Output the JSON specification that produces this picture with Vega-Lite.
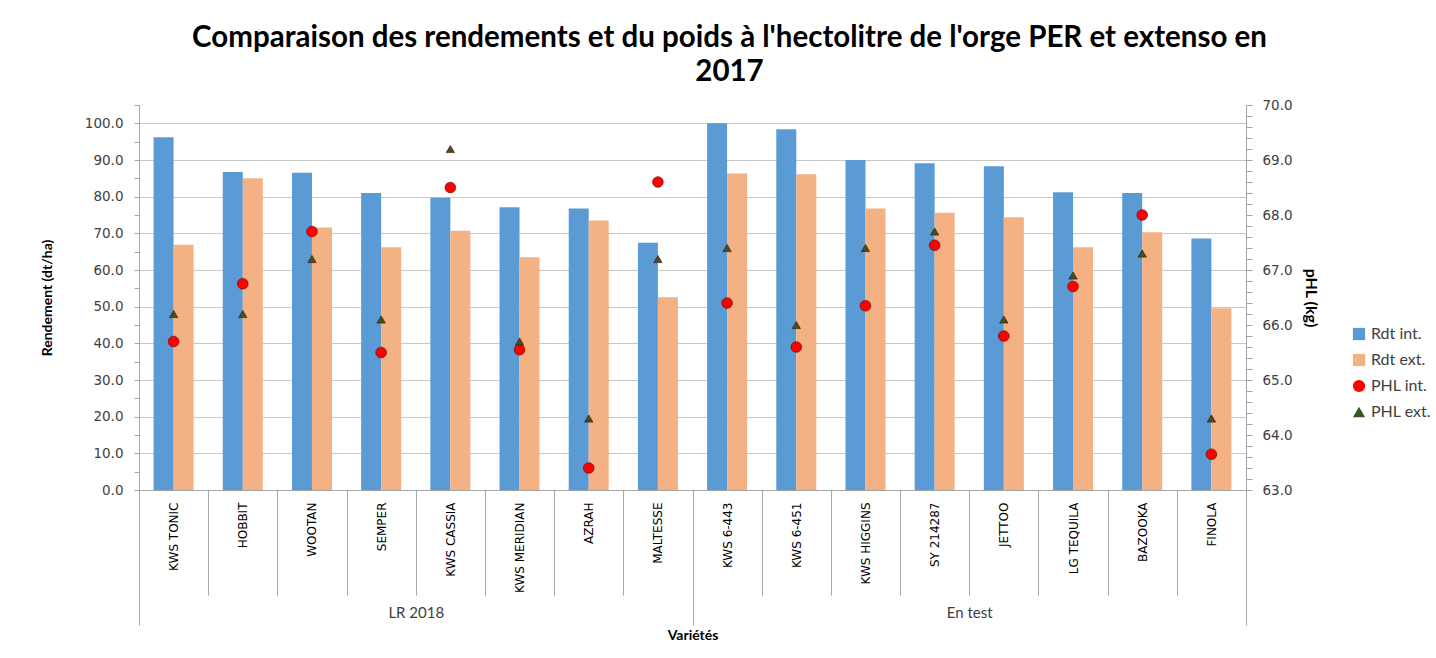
{
  "$schema": "https://vega.github.io/schema/vega-lite/v6.json",
  "width": 1107,
  "height": 385,
  "autosize": {"type": "none"},
  "padding": {"left": 139, "top": 105, "right": 190, "bottom": 168},
  "background": "white",
  "config": {"view": {"stroke": null}},
  "title": {
    "text": ["Comparaison des rendements et du poids à l'hectolitre de l'orge PER et extenso en", "2017"],
    "font": "Lato",
    "fontSize": 29.5,
    "fontWeight": "bold",
    "color": "black",
    "anchor": "middle",
    "dx": 37,
    "offset": 11,
    "lineHeight": 34
  },
  "datasets": {
    "rdt": [
      {"variety": "KWS TONIC", "group": "LR 2018", "series": "Rdt int.", "value": 96.2},
      {"variety": "KWS TONIC", "group": "LR 2018", "series": "Rdt ext.", "value": 66.9},
      {"variety": "HOBBIT", "group": "LR 2018", "series": "Rdt int.", "value": 86.7},
      {"variety": "HOBBIT", "group": "LR 2018", "series": "Rdt ext.", "value": 85.0},
      {"variety": "WOOTAN", "group": "LR 2018", "series": "Rdt int.", "value": 86.5},
      {"variety": "WOOTAN", "group": "LR 2018", "series": "Rdt ext.", "value": 71.6},
      {"variety": "SEMPER", "group": "LR 2018", "series": "Rdt int.", "value": 81.0},
      {"variety": "SEMPER", "group": "LR 2018", "series": "Rdt ext.", "value": 66.2},
      {"variety": "KWS CASSIA", "group": "LR 2018", "series": "Rdt int.", "value": 79.7},
      {"variety": "KWS CASSIA", "group": "LR 2018", "series": "Rdt ext.", "value": 70.7},
      {"variety": "KWS MERIDIAN", "group": "LR 2018", "series": "Rdt int.", "value": 77.1},
      {"variety": "KWS MERIDIAN", "group": "LR 2018", "series": "Rdt ext.", "value": 63.5},
      {"variety": "AZRAH", "group": "LR 2018", "series": "Rdt int.", "value": 76.8},
      {"variety": "AZRAH", "group": "LR 2018", "series": "Rdt ext.", "value": 73.5},
      {"variety": "MALTESSE", "group": "LR 2018", "series": "Rdt int.", "value": 67.4},
      {"variety": "MALTESSE", "group": "LR 2018", "series": "Rdt ext.", "value": 52.6},
      {"variety": "KWS 6-443", "group": "En test", "series": "Rdt int.", "value": 100.0},
      {"variety": "KWS 6-443", "group": "En test", "series": "Rdt ext.", "value": 86.3},
      {"variety": "KWS 6-451", "group": "En test", "series": "Rdt int.", "value": 98.4},
      {"variety": "KWS 6-451", "group": "En test", "series": "Rdt ext.", "value": 86.1},
      {"variety": "KWS HIGGINS", "group": "En test", "series": "Rdt int.", "value": 90.0},
      {"variety": "KWS HIGGINS", "group": "En test", "series": "Rdt ext.", "value": 76.8},
      {"variety": "SY 214287", "group": "En test", "series": "Rdt int.", "value": 89.1},
      {"variety": "SY 214287", "group": "En test", "series": "Rdt ext.", "value": 75.6},
      {"variety": "JETTOO", "group": "En test", "series": "Rdt int.", "value": 88.3},
      {"variety": "JETTOO", "group": "En test", "series": "Rdt ext.", "value": 74.4},
      {"variety": "LG TEQUILA", "group": "En test", "series": "Rdt int.", "value": 81.2},
      {"variety": "LG TEQUILA", "group": "En test", "series": "Rdt ext.", "value": 66.2},
      {"variety": "BAZOOKA", "group": "En test", "series": "Rdt int.", "value": 81.0},
      {"variety": "BAZOOKA", "group": "En test", "series": "Rdt ext.", "value": 70.3},
      {"variety": "FINOLA", "group": "En test", "series": "Rdt int.", "value": 68.6},
      {"variety": "FINOLA", "group": "En test", "series": "Rdt ext.", "value": 49.6}
    ],
    "phl": [
      {"variety": "KWS TONIC", "series": "PHL int.", "value": 65.7},
      {"variety": "KWS TONIC", "series": "PHL ext.", "value": 66.2},
      {"variety": "HOBBIT", "series": "PHL int.", "value": 66.75},
      {"variety": "HOBBIT", "series": "PHL ext.", "value": 66.2},
      {"variety": "WOOTAN", "series": "PHL int.", "value": 67.7},
      {"variety": "WOOTAN", "series": "PHL ext.", "value": 67.2},
      {"variety": "SEMPER", "series": "PHL int.", "value": 65.5},
      {"variety": "SEMPER", "series": "PHL ext.", "value": 66.1},
      {"variety": "KWS CASSIA", "series": "PHL int.", "value": 68.5},
      {"variety": "KWS CASSIA", "series": "PHL ext.", "value": 69.2},
      {"variety": "KWS MERIDIAN", "series": "PHL int.", "value": 65.55},
      {"variety": "KWS MERIDIAN", "series": "PHL ext.", "value": 65.7},
      {"variety": "AZRAH", "series": "PHL int.", "value": 63.4},
      {"variety": "AZRAH", "series": "PHL ext.", "value": 64.3},
      {"variety": "MALTESSE", "series": "PHL int.", "value": 68.6},
      {"variety": "MALTESSE", "series": "PHL ext.", "value": 67.2},
      {"variety": "KWS 6-443", "series": "PHL int.", "value": 66.4},
      {"variety": "KWS 6-443", "series": "PHL ext.", "value": 67.4},
      {"variety": "KWS 6-451", "series": "PHL int.", "value": 65.6},
      {"variety": "KWS 6-451", "series": "PHL ext.", "value": 66.0},
      {"variety": "KWS HIGGINS", "series": "PHL int.", "value": 66.35},
      {"variety": "KWS HIGGINS", "series": "PHL ext.", "value": 67.4},
      {"variety": "SY 214287", "series": "PHL int.", "value": 67.45},
      {"variety": "SY 214287", "series": "PHL ext.", "value": 67.7},
      {"variety": "JETTOO", "series": "PHL int.", "value": 65.8},
      {"variety": "JETTOO", "series": "PHL ext.", "value": 66.1},
      {"variety": "LG TEQUILA", "series": "PHL int.", "value": 66.7},
      {"variety": "LG TEQUILA", "series": "PHL ext.", "value": 66.9},
      {"variety": "BAZOOKA", "series": "PHL int.", "value": 68.0},
      {"variety": "BAZOOKA", "series": "PHL ext.", "value": 67.3},
      {"variety": "FINOLA", "series": "PHL int.", "value": 63.65},
      {"variety": "FINOLA", "series": "PHL ext.", "value": 64.3}
    ]
  },
  "layer": [
    {
      "data": {"name": "rdt"},
      "mark": {"type": "bar"},
      "encoding": {
        "x": {
          "field": "variety", "type": "nominal", "sort": null,
          "scale": {"paddingInner": 0, "paddingOuter": 0},
          "axis": {
            "orient": "bottom", "title": null,
            "labelAngle": -90, "labelAlign": "right", "labelBaseline": "middle",
            "tickBand": "extent", "tickSize": 105, "labelPadding": -93,
            "labelFont": "DejaVu Sans", "labelFontSize": 12, "labelColor": "black",
            "domainColor": "#A6A6A6", "tickColor": "#A6A6A6", "labelOverlap": false, "grid": false
          }
        },
        "xOffset": {
          "field": "series", "type": "nominal", "sort": ["Rdt int.", "Rdt ext."],
          "scale": {"paddingInner": 0, "paddingOuter": 0.73}
        },
        "y": {
          "field": "value", "type": "quantitative",
          "scale": {"domain": [0, 105], "nice": false, "zero": true},
          "axis": {
            "orient": "left",
            "values": [0, 5, 10, 15, 20, 25, 30, 35, 40, 45, 50, 55, 60, 65, 70, 75, 80, 85, 90, 95, 100, 105],
            "labelExpr": "(datum.value % 10 == 0 && datum.value <= 100) ? format(datum.value, '.1f') : ''",
            "labelOverlap": false,
            "grid": true, "gridColor": "#C8C8C8",
            "gridOpacity": {"condition": {"test": "datum.value % 10 != 0 || datum.value > 100", "value": 0}, "value": 1},
            "tickSize": 5, "tickColor": "#A6A6A6", "domainColor": "#A6A6A6",
            "labelFont": "DejaVu Sans", "labelFontSize": 13.5, "labelColor": "#404040", "labelPadding": 11,
            "title": "Rendement (dt/ha)", "titleFont": "Lato", "titleFontSize": 14, "titleFontWeight": "bold",
            "titlePadding": 30, "titleColor": "black"
          }
        },
        "color": {
          "field": "series", "type": "nominal",
          "scale": {"domain": ["Rdt int.", "Rdt ext.", "PHL int.", "PHL ext."], "range": ["#5B9BD5", "#F4B183", "#FF0000", "#375623"]},
          "legend": {
            "orient": "none", "legendX": 1212, "legendY": 221, "title": null,
            "labelFont": "Lato", "labelFontSize": 16, "labelColor": "#404040",
            "symbolSize": 150, "rowPadding": 10, "symbolStrokeWidth": 0, "labelOffset": 4
          }
        }
      }
    },
    {
      "data": {"name": "phl"},
      "mark": {"type": "point", "filled": true, "opacity": 1, "stroke": "#5A0000", "strokeWidth": 0.6},
      "encoding": {
        "x": {
          "field": "variety", "type": "nominal", "sort": null,
          "scale": {"paddingInner": 0, "paddingOuter": 0},
          "axis": null
        },
        "y": {
          "field": "value", "type": "quantitative",
          "scale": {"domain": [63, 70], "nice": false, "zero": false},
          "axis": {
            "orient": "right",
            "values": [63, 63.2, 63.4, 63.6, 63.8, 64, 64.2, 64.4, 64.6, 64.8, 65, 65.2, 65.4, 65.6, 65.8, 66, 66.2, 66.4, 66.6, 66.8, 67, 67.2, 67.4, 67.6, 67.8, 68, 68.2, 68.4, 68.6, 68.8, 69, 69.2, 69.4, 69.6, 69.8, 70],
            "labelExpr": "abs(datum.value - round(datum.value)) < 0.01 ? format(datum.value, '.1f') : ''",
            "labelOverlap": false, "grid": false,
            "tickSize": 6, "tickColor": "#A6A6A6", "domainColor": "#A6A6A6",
            "labelFont": "DejaVu Sans", "labelFontSize": 13.5, "labelColor": "#404040", "labelPadding": 10,
            "title": "pHL (kg)", "titleFont": "Lato", "titleFontSize": 16, "titleFontWeight": "bold",
            "titlePadding": 10, "titleColor": "black"
          }
        },
        "color": {
          "field": "series", "type": "nominal",
          "scale": {"domain": ["Rdt int.", "Rdt ext.", "PHL int.", "PHL ext."], "range": ["#5B9BD5", "#F4B183", "#FF0000", "#375623"]}
        },
        "shape": {
          "field": "series", "type": "nominal",
          "scale": {"domain": ["Rdt int.", "Rdt ext.", "PHL int.", "PHL ext."], "range": ["square", "square", "circle", "triangle-up"]}
        },
        "size": {
          "field": "series", "type": "nominal",
          "scale": {"domain": ["PHL int.", "PHL ext."], "range": [115, 70]},
          "legend": null
        }
      }
    },
    {
      "data": {"name": "rdt"},
      "mark": {"type": "point", "opacity": 0},
      "encoding": {
        "x": {
          "field": "group", "type": "nominal", "sort": null,
          "scale": {"paddingInner": 0, "paddingOuter": 0},
          "axis": {
            "orient": "bottom", "tickBand": "extent", "tickSize": 135, "labelPadding": -20,
            "domain": false, "labelAngle": 0, "labelFont": "Lato", "labelFontSize": 15, "labelColor": "#404040",
            "tickColor": "#A6A6A6",
            "title": "Variétés", "titleFont": "Lato", "titleFontSize": 14, "titleFontWeight": "bold",
            "titlePadding": 3, "titleColor": "black"
          }
        }
      }
    }
  ],
  "resolve": {"scale": {"x": "independent", "y": "independent", "size": "independent"}}
}
